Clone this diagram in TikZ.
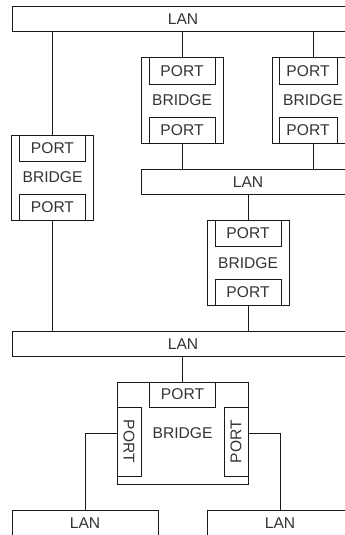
\documentclass[tikz,border=0pt]{standalone}
\usepackage{fontspec}
\setmainfont{Liberation Sans}
\usetikzlibrary{positioning}

\tikzset{
  box/.style={draw=black!90, line width=1pt, inner sep=0pt, outer sep=0pt},
  lan/.style={box, minimum height=25},
  bridge/.style={box, minimum width=82, minimum height=85},
  port/.style={box, minimum width=66, minimum height=26},
  vport/.style={box, minimum width=24, minimum height=69},
  link/.style={draw=black!90, line width=1pt},
}

\begin{document}
\begin{tikzpicture}[x=1pt, y=-1pt, font=\fontsize{15.6}{18}\selectfont, text=black!80]
\useasboundingbox (0,0) rectangle (345,535);
\clip (0,0) rectangle (345,535);

\node[lan, minimum width=342] (lan1) at (183,19) {LAN};
\node[lan, minimum width=214] (lan2) at (248,182) {LAN};
\node[lan, minimum width=342] (lan3) at (183,344) {LAN};
\node[lan, minimum width=146] (lan4) at (85,523) {LAN};
\node[lan, minimum width=146] (lan5) at (280,523) {LAN};

\node[bridge] (b1) at (52.5,177.5) {BRIDGE};
\node[port, below=0pt of b1.north] (b1top) {PORT};
\node[port, above=0pt of b1.south] (b1bot) {PORT};

\node[bridge] (b2) at (182,100.5) {BRIDGE};
\node[port, below=0pt of b2.north] (b2top) {PORT};
\node[port, above=0pt of b2.south] (b2bot) {PORT};

\node[bridge] (b3) at (313,100.5) {BRIDGE};
\node[port, minimum width=58, anchor=north west] (b3top) at ([xshift=7pt]b3.north west) {PORT};
\node[port, minimum width=58, anchor=south west] (b3bot) at ([xshift=7pt]b3.south west) {PORT};

\node[bridge] (b4) at (248,263) {BRIDGE};
\node[port, below=0pt of b4.north] (b4top) {PORT};
\node[port, above=0pt of b4.south] (b4bot) {PORT};

\node[bridge, minimum width=131, minimum height=102] (b5) at (182.5,433) {BRIDGE};
\node[port, minimum height=25, below=0pt of b5.north] (b5top) {PORT};
\node[vport, anchor=north west] (b5left) at (b5top.south -| b5.west) {\rotatebox{-90}{PORT}};
\node[vport, anchor=north east] (b5right) at (b5top.south -| b5.east) {\rotatebox{90}{PORT}};

\draw[link] (b1top) -- (b1top |- lan1.south);
\draw[link] (b2top) -- (b2top |- lan1.south);
\draw[link] (b3top.north -| b3) -- (b3 |- lan1.south);
\draw[link] (b2bot) -- (b2bot |- lan2.north);
\draw[link] (b3bot.south -| b3) -- (b3 |- lan2.north);
\draw[link] (b4top) -- (b4top |- lan2.south);
\draw[link] (b1bot) -- (b1bot |- lan3.north);
\draw[link] (b4bot) -- (b4bot |- lan3.north);
\draw[link] (b5top) -- (b5top |- lan3.south);
\draw[link] (b5left.west |- b5) -| (lan4.north);
\draw[link] (b5right.east |- b5) -| (lan5.north);
\end{tikzpicture}
\end{document}
